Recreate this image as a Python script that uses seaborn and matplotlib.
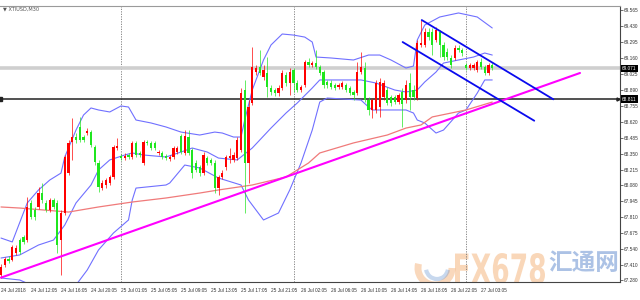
import numpy as np
import pandas as pd
import matplotlib
matplotlib.use("Agg")
import matplotlib.pyplot as plt
from matplotlib.patches import Arc, PathPatch
from matplotlib.textpath import TextPath
from matplotlib.font_manager import FontProperties
from matplotlib.transforms import Affine2D
import seaborn as sns

sns.set_style("white")
plt.rcParams['font.family'] = ['Liberation Sans', 'DejaVu Sans', 'Noto Sans CJK SC']

# ---------------- data (XTIUSD, M30) ----------------
opens = [67.322, 67.407, 67.458, 67.449, 67.509, 67.618, 67.644, 67.618, 67.932, 67.872,
         67.898, 68.016, 67.932, 67.872, 67.957, 67.932, 67.618, 67.847, 68.185, 68.448,
         68.490, 68.575, 68.490, 68.524, 68.532, 68.406, 68.270, 68.058, 68.084, 68.101,
         68.152, 68.397, 68.329, 68.312, 68.338, 68.321, 68.440, 68.355, 68.270, 68.448,
         68.440, 68.440, 68.355, 68.355, 68.329, 68.304, 68.321, 68.363, 68.499, 68.355,
         68.490, 68.380, 68.270, 68.236, 68.185, 68.312, 68.296, 68.270, 68.058, 68.152,
         68.236, 68.312, 68.296, 68.312, 68.380, 68.888, 68.270, 68.778, 69.040, 69.083,
         68.998, 69.032, 68.905, 68.888, 68.862, 68.905, 69.015, 68.947, 69.057, 68.947,
         68.888, 68.930, 69.125, 69.099, 69.116, 69.083, 69.040, 68.956, 68.947, 68.930,
         68.913, 68.913, 68.930, 68.905, 68.871, 68.862, 69.040, 69.074, 68.803, 68.719,
         68.719, 68.744, 68.829, 68.888, 68.829, 68.829, 68.786, 68.871, 68.803, 68.947,
         68.888, 68.820, 69.269, 69.269, 69.379, 69.379, 69.311, 69.379, 69.269, 69.210,
         69.159, 69.159, 69.243, 69.226, 69.099, 69.074, 69.074, 69.057, 69.125, 69.083,
         69.032, 69.099]
closes = [67.390, 67.458, 67.441, 67.559, 67.551, 67.517, 67.602, 67.898, 67.813, 67.813,
          68.016, 67.957, 67.872, 67.957, 67.898, 67.576, 67.847, 68.321, 68.440, 68.490,
          68.465, 68.465, 68.465, 68.541, 68.423, 68.279, 68.067, 68.101, 68.126, 68.152,
          68.406, 68.414, 68.312, 68.329, 68.321, 68.440, 68.338, 68.338, 68.448, 68.440,
          68.397, 68.397, 68.363, 68.321, 68.312, 68.321, 68.397, 68.397, 68.363, 68.499,
          68.355, 68.185, 68.211, 68.185, 68.338, 68.270, 68.270, 68.058, 68.152, 68.185,
          68.321, 68.329, 68.338, 68.465, 68.862, 68.270, 68.744, 69.083, 69.074, 69.032,
          69.057, 68.913, 68.871, 68.862, 68.905, 69.032, 68.947, 69.040, 68.947, 68.888,
          68.913, 69.125, 69.099, 69.116, 69.083, 69.032, 68.930, 68.930, 68.913, 68.905,
          68.930, 68.947, 68.888, 68.862, 68.846, 69.040, 69.083, 68.803, 68.719, 68.803,
          68.947, 68.956, 68.947, 68.778, 68.778, 68.786, 68.846, 68.770, 68.930, 68.829,
          68.829, 69.286, 69.286, 69.379, 69.336, 69.269, 69.396, 69.269, 69.167, 69.167,
          69.099, 69.243, 69.226, 69.201, 69.074, 69.099, 69.099, 69.125, 69.083, 69.032,
          69.099, 69.071]
highs = [67.415, 67.475, 67.483, 67.576, 67.576, 67.635, 67.661, 67.982, 67.957, 67.898,
         68.067, 68.101, 67.957, 67.974, 67.974, 67.957, 67.872, 68.338, 68.465, 68.651,
         68.524, 68.660, 68.507, 68.566, 68.549, 68.423, 68.296, 68.126, 68.143, 68.169,
         68.423, 68.482, 68.346, 68.355, 68.355, 68.456, 68.456, 68.372, 68.465, 68.465,
         68.456, 68.456, 68.380, 68.372, 68.346, 68.338, 68.414, 68.414, 68.516, 68.549,
         68.549, 68.397, 68.296, 68.253, 68.363, 68.329, 68.312, 68.296, 68.169, 68.211,
         68.338, 68.397, 68.363, 68.490, 68.905, 68.973, 68.803, 69.252, 69.099, 69.226,
         69.099, 69.167, 68.930, 68.905, 68.930, 69.057, 69.040, 69.074, 69.074, 68.973,
         68.930, 69.142, 69.159, 69.133, 69.226, 69.099, 69.057, 68.973, 68.973, 68.947,
         68.947, 68.964, 68.947, 68.922, 68.888, 69.125, 69.210, 69.125, 68.829, 68.820,
         68.973, 68.989, 68.973, 68.913, 68.846, 68.846, 68.862, 68.905, 68.973, 69.032,
         68.930, 69.311, 69.480, 69.413, 69.413, 69.413, 69.421, 69.396, 69.294, 69.243,
         69.184, 69.269, 69.269, 69.243, 69.116, 69.116, 69.116, 69.142, 69.159, 69.099,
         69.116, 69.116]
lows = [67.297, 67.390, 67.424, 67.441, 67.492, 67.500, 67.585, 67.602, 67.796, 67.788,
        67.881, 67.932, 67.855, 67.855, 67.881, 67.509, 67.322, 67.830, 68.169, 68.296,
        68.440, 68.448, 68.448, 68.507, 68.406, 68.253, 68.025, 68.042, 68.058, 68.084,
        68.135, 68.380, 68.296, 68.296, 68.304, 68.304, 68.321, 68.321, 68.253, 68.423,
        68.380, 68.380, 68.338, 68.304, 68.296, 68.287, 68.304, 68.346, 68.346, 68.338,
        68.338, 68.143, 68.194, 68.160, 68.169, 68.253, 68.253, 68.016, 67.999, 68.135,
        68.211, 68.270, 68.279, 68.296, 68.363, 67.847, 68.101, 68.761, 69.015, 69.015,
        68.973, 68.829, 68.846, 68.837, 68.837, 68.888, 68.922, 68.846, 68.871, 68.871,
        68.871, 68.913, 69.083, 69.083, 69.066, 69.015, 68.905, 68.905, 68.896, 68.888,
        68.896, 68.896, 68.871, 68.846, 68.803, 68.846, 69.023, 68.786, 68.676, 68.651,
        68.693, 68.660, 68.803, 68.761, 68.753, 68.770, 68.770, 68.575, 68.778, 68.719,
        68.803, 68.803, 69.252, 69.252, 69.311, 69.184, 69.294, 69.167, 69.142, 69.142,
        69.074, 69.142, 69.210, 69.176, 69.057, 69.057, 69.057, 69.040, 69.066, 69.015,
        69.015, 69.057]

# Bollinger bands (read at sample bars)
upper_bars = [0, 3, 7, 10, 13, 16, 17, 20, 22, 24, 26, 29, 32, 34, 36, 40, 44, 48, 53, 57,
              59, 62, 64, 65, 67, 70, 72, 75, 78, 81, 83, 84, 88, 94, 98, 101, 104, 108, 110,
              111, 113, 117, 122, 127, 131]
upper_vals = [67.635, 67.602, 67.932, 68.042, 68.126, 68.185, 68.321, 68.549, 68.676, 68.736,
              68.719, 68.702, 68.753, 68.744, 68.634, 68.609, 68.575, 68.532, 68.507, 68.532,
              68.524, 68.490, 68.490, 68.634, 68.888, 69.142, 69.269, 69.362, 69.353, 69.336,
              69.294, 69.167, 69.159, 69.142, 69.184, 69.184, 69.142, 69.074, 69.091,
              69.311, 69.438, 69.506, 69.540, 69.506, 69.413]
middle_bars = [0, 5, 10, 14, 17, 20, 24, 26, 29, 33, 35, 38, 44, 48, 51, 55, 58, 63, 67, 72,
               76, 79, 83, 85, 89, 96, 100, 105, 108, 111, 113, 116, 118, 122, 126, 129, 131]
middle_vals = [67.466, 67.492, 67.576, 67.618, 67.745, 67.932, 68.084, 68.211, 68.296, 68.338,
               68.355, 68.338, 68.321, 68.363, 68.397, 68.363, 68.312, 68.296, 68.397, 68.566,
               68.693, 68.778, 68.905, 68.973, 68.973, 68.973, 68.947, 68.888, 68.871, 68.888,
               68.956, 69.040, 69.116, 69.142, 69.167, 69.201, 69.184]
lower_bars = [0, 5, 8, 12, 16, 19, 20, 21, 23, 26, 30, 34, 35, 36, 44, 45, 49, 53, 58, 64,
              66, 70, 74, 77, 80, 83, 85, 87, 96, 98, 99, 108, 110, 111, 113, 116, 118, 122,
              124, 127, 129, 131]
lower_vals = [67.297, 67.280, 67.238, 67.111, 67.153, 67.195, 67.238, 67.280, 67.365, 67.534,
              67.678, 67.788, 67.957, 68.058, 68.084, 68.101, 68.253, 68.228, 68.143, 68.084,
              67.957, 67.788, 67.847, 68.042, 68.270, 68.549, 68.786, 68.820, 68.803, 68.744,
              68.719, 68.719, 68.693, 68.634, 68.609, 68.524, 68.549, 68.693, 68.719, 68.862,
              68.973, 68.973]
# moving average (red)
ma_bars = [0, 5, 18, 26, 35, 44, 53, 58, 67, 76, 82, 85, 94, 103, 108, 112, 115, 124, 131]
ma_vals = [67.898, 67.889, 67.855, 67.898, 67.940, 67.974, 68.016, 68.042, 68.084, 68.152,
           68.270, 68.355, 68.440, 68.507, 68.566, 68.592, 68.660, 68.719, 68.786]

# drawn objects
trend_bars = [0, 154.4]
trend_vals = [67.300, 69.032]
chan_up_bars = [112.2, 147.3]
chan_up_vals = [69.480, 68.809]
chan_lo_bars = [107.1, 142.2]
chan_lo_vals = [69.294, 68.628]
hline_level = 68.811
last_price = 69.071
day_sep_bars = [32, 78, 124]

x_tick_bars = [0, 8, 16, 24, 32, 40, 48, 56, 64, 72, 80, 88, 96, 104, 112, 120, 128]
x_tick_labels = ["24 Jul 2018", "24 Jul 12:05", "24 Jul 16:05", "24 Jul 20:05", "25 Jul 01:05",
                 "25 Jul 05:05", "25 Jul 09:05", "25 Jul 13:05", "25 Jul 17:05", "25 Jul 21:05",
                 "26 Jul 02:05", "26 Jul 06:05", "26 Jul 10:05", "26 Jul 14:05", "26 Jul 18:05",
                 "26 Jul 22:05", "27 Jul 03:05"]
y_tick_vals = [69.565, 69.430, 69.295, 69.160, 69.025, 68.890, 68.755, 68.620, 68.485, 68.350,
               68.215, 68.080, 67.945, 67.810, 67.675, 67.540, 67.410, 67.280]
y_tick_labels = [f"{v:.3f}" for v in y_tick_vals]

# ---------------- figure ----------------
W, H = 640, 300
fig = plt.figure(figsize=(W / 100, H / 100), dpi=100)
ax = fig.add_axes([0, 18 / H, 620 / W, 276 / H])
px = 3.75  # pixels per bar
ax.set_xlim(-1 / px, 619 / px)
ax.set_ylim(67.263, 69.599)

df = pd.DataFrame({"o": opens, "h": highs, "l": lows, "c": closes})
df["i"] = np.arange(len(df))
up = df["c"] >= df["o"]
RED, GREEN = "#ff0000", "#1fe61f"
cols = np.where(up, RED, GREEN)

# day separators
for b in day_sep_bars:
    ax.axvline(b, color="#777777", lw=0.6, ls=(0, (1.5, 1.5)), zorder=1)

# horizontal lines
ax.axhline(last_price, color="#cfcfcf", lw=2.6, zorder=1)
ax.axhline(hline_level, color="#222222", lw=1.1, zorder=2)
# small end markers of the horizontal line
ax.plot([0.0], [hline_level], transform=ax.get_yaxis_transform(), marker="s", ms=2.2,
        color="#222222", clip_on=False, zorder=7)
ax.plot([0.997], [hline_level], transform=ax.get_yaxis_transform(), marker=">", ms=2.2,
        color="#222222", clip_on=False, zorder=7)

# bands and MA via seaborn
band_col = "#7070ff"
sns.lineplot(x=upper_bars, y=upper_vals, ax=ax, color=band_col, lw=0.8, zorder=3)
sns.lineplot(x=middle_bars, y=middle_vals, ax=ax, color=band_col, lw=0.8, zorder=3)
sns.lineplot(x=lower_bars, y=lower_vals, ax=ax, color=band_col, lw=0.8, zorder=3)
sns.lineplot(x=ma_bars, y=ma_vals, ax=ax, color="#f07a7a", lw=0.9, zorder=3)

# candles
ax.vlines(df["i"], df["l"], df["h"], colors=cols, lw=0.7, alpha=0.7, zorder=4)
body = (df["c"] - df["o"]).abs().clip(lower=0.004)
bottom = np.minimum(df["o"], df["c"])
ax.bar(df["i"], body, bottom=bottom, width=0.62, color=cols, lw=0, zorder=5)

# trend line and channel
sns.lineplot(x=trend_bars, y=trend_vals, ax=ax, color="#ff00ff", lw=1.5, zorder=6)
sns.lineplot(x=chan_up_bars, y=chan_up_vals, ax=ax, color="#0a0aee", lw=1.3, zorder=6)
sns.lineplot(x=chan_lo_bars, y=chan_lo_vals, ax=ax, color="#0a0aee", lw=1.3, zorder=6)

# axes styling
ax.spines["left"].set_visible(False)
ax.spines["top"].set_color("#9a9a9a")
ax.spines["top"].set_linewidth(0.8)
for s in ["right", "bottom"]:
    ax.spines[s].set_color("#444444")
    ax.spines[s].set_linewidth(0.8)
ax.yaxis.tick_right()
ax.set_yticks(y_tick_vals)
ax.set_yticklabels(y_tick_labels)
ax.set_xticks(x_tick_bars)
ax.set_xticklabels(x_tick_labels, ha="left")
ax.tick_params(axis="y", labelsize=3.4, colors="#333333", length=2, width=0.5, pad=1)
ax.tick_params(axis="x", labelsize=3.4, colors="#333333", length=2.5, width=0.5, pad=1.5)
ax.set_xlabel("")
ax.set_ylabel("")
ax.grid(False)

# price tags
tr = ax.get_yaxis_transform()
for v in [last_price, hline_level]:
    ax.text(1.003, v, f"{v:.3f}", transform=tr, fontsize=3.4, color="white", va="center",
            ha="left", clip_on=False,
            bbox=dict(boxstyle="square,pad=0.25", fc="black", ec="none"), zorder=10)

# title
fig.text(3 / W, 1 - 9 / H, "▼ XTIUSD,M30", fontsize=3.6, color="#555555", va="center",
         family=["DejaVu Sans"])

# watermark (scaled text path, clipped by the plot frame)
tp = TextPath((0, 0), "FX678", size=100,
              prop=FontProperties(family="DejaVu Sans", weight="bold"))
bb = tp.get_extents()
wm_tr = (Affine2D().translate(-bb.x0, -bb.y0)
         .scale(90 / bb.width, 31 / bb.height).translate(455, H - 284))
wm = PathPatch(tp, transform=wm_tr, fc="#f3a865", ec="none", alpha=0.45, zorder=0)
ax.add_artist(wm)
ax.text(548 / 620, 7 / 276, "汇通网", transform=ax.transAxes, fontsize=17,
        family=["Noto Sans CJK SC"], fontweight="bold",
        color="#5a86cc", alpha=0.5, ha="left", va="bottom", clip_on=True, zorder=0)
arc1 = Arc((435 / 620, 14 / 276), 34 / 620, 34 / 276, theta1=150, theta2=360,
           transform=ax.transAxes, color="#f09040", lw=5, alpha=0.35, zorder=0)
arc2 = Arc((437 / 620, 14 / 276), 22 / 620, 22 / 276, theta1=200, theta2=340,
           transform=ax.transAxes, color="#6090d0", lw=3, alpha=0.35, zorder=0)
ax.add_patch(arc1)
ax.add_patch(arc2)

fig.savefig("out.png", dpi=100)
